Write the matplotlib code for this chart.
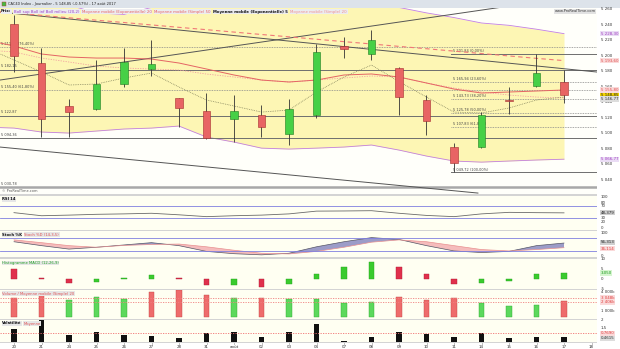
import matplotlib
matplotlib.use("Agg")
import matplotlib.pyplot as plt
from matplotlib.patches import Rectangle
import numpy as np

# ---- data (CAC40 daily, 20 July -> 17 Aug 2017) ----
days = ["20", "21", "24", "25", "26", "27", "28", "31", "août", "02", "03",
        "04", "07", "08", "09", "10", "11", "14", "15", "16", "17", "18"]

opens = [5241, 5190.5, 5135, 5131, 5163.5, 5183, 5145.5, 5129, 5118.5, 5123.6, 5099,
         5123.6, 5212, 5202, 5184, 5143, 5082.4, 5082, 5142.5, 5161, 5166]
highs = [5252, 5210, 5144, 5194, 5210, 5220, 5146, 5152, 5149, 5136.5, 5144,
         5215, 5224, 5233, 5185, 5149, 5087.5, 5127.4, 5160, 5202, 5181.5]
lows = [5179, 5095, 5095, 5130, 5160, 5174, 5108, 5093, 5089, 5095, 5085,
        5119.7, 5197, 5194, 5123.6, 5098, 5049.72, 5081, 5125, 5160, 5139]
closes = [5200, 5118.4, 5127, 5163.5, 5192, 5189, 5132.6, 5094.4, 5129, 5108, 5131,
          5204.7, 5208.5, 5220, 5147, 5116, 5062, 5123.6, 5141.8, 5177.6, 5148.85]

# overlays, first value is the day before the first candle
bb_upper = [5290, 5285, 5275, 5265, 5255, 5253, 5262, 5265, 5268, 5270, 5270,
            5268, 5267, 5266, 5265, 5262, 5255, 5249, 5242, 5239, 5234, 5228.3]
bb_lower = [5108, 5106.8, 5101.7, 5100.4, 5103, 5105.6, 5106.8, 5109.4, 5095.3, 5088.8, 5081,
            5079.8, 5081, 5082.4, 5085, 5078.5, 5070.8, 5064.4, 5063, 5064.4, 5065.7, 5066.77]
bb_mid = [5207.2, 5204.7, 5196.9, 5191.8, 5186.6, 5184.1, 5182.8, 5181.5, 5176.3, 5172.5, 5168.6,
          5166.0, 5168.6, 5171.2, 5173.8, 5172.5, 5164.8, 5158.3, 5153.2, 5149.3, 5146.7, 5145.5]
ema20 = [5220.1, 5212.4, 5202.1, 5198.2, 5196.9, 5196.9, 5195.6, 5190.5, 5182.8, 5175.1, 5168.6,
         5166.1, 5168.6, 5175.1, 5176.4, 5172.5, 5164.8, 5157.0, 5151.9, 5153.2, 5154.5, 5155.8]
sma50 = [5257.9, 5254.9, 5251.8, 5248.7, 5245.6, 5242.6, 5239.5, 5236.4, 5233.4, 5230.3, 5227.2,
         5224.2, 5221.1, 5218.0, 5215.0, 5211.9, 5208.9, 5205.8, 5202.7, 5199.6, 5196.5, 5193.6]
ma5 = [5209.8, 5194.4, 5178.9, 5162.2, 5163.5, 5171.2, 5177.6, 5159.6, 5142.9, 5135.2, 5127.4,
       5130.0, 5153.2, 5172.5, 5187.9, 5166.7, 5146.7, 5127.4, 5126.2, 5132.6, 5142.9, 5146.77]

# drawn trend lines (index, price)
trend_hi = ([-0.51, 21.2], [5256.1, 5178.9])
trend_up = ([-0.51, 18.5], [5168.6, 5266.3])
trend_lo = ([-0.51, 16.87], [5082.4, 5023.2])

levels_solid = [5182.15, 5122.87, 5094.36]
levels_dotted = [5211.53, 5155.40]
level_floor = 5030.78
left_labels = {5211.53: "5 211,53 (76,40%)", 5182.15: "5 182,15", 5155.40: "5 155,40 (61,80%)",
               5122.87: "5 122,87", 5094.36: "5 094,36", 5030.78: "5 030,78"}
fib_high, fib_low, fib_start = 5201.84, 5049.72, 15.9
fib_pct = [0, 23.6, 38.2, 50, 61.8, 100]

rsi = [49, 39, 41, 43.6, 45, 47, 42, 36, 39, 41, 45, 54, 54.5, 55.4, 47, 40, 36, 45, 50, 49, 48.379]
stoch_k = [62, 45, 30, 38, 48, 58, 45, 20, 10, 5, 12, 40, 62, 80, 72, 45, 22, 15, 20, 45, 56.313]
stoch_d = [70, 58, 45, 38, 46, 50, 52, 40, 25, 12, 9, 20, 38, 60, 70, 62, 45, 28, 22, 28, 36.114]
macd_hist = [5.0, 0.3, -2.2, -1.7, 0.5, 2.0, 0.6, -3.2, -3.0, -3.8, -2.5,
             2.5, 5.8, 8.5, 5.8, 2.7, -2.5, -2.2, -0.8, 2.5, 3.05]
volume = [3048, 3850, 2780, 3262, 2941, 3957, 4331, 3583, 3048, 3102, 2834,
          2941, 2246, 2406, 3209, 2674, 2995, 2246, 1711, 1925, 2513]
vol_ma = [3048, 2406]
volat = [1.14, 2.0, 0.62, 0.92, 0.62, 0.52, 0.37, 0.77, 0.86, 0.43, 0.86,
         1.63, 0.09, 0.40, 0.86, 0.68, 0.40, 0.77, 0.31, 0.46, 0.4615]
volat_ma = 0.769

W, H = 620, 349
XL = (-0.509, 21.2)
FS = 2.9


def fr(v, d=2):
    s = f"{v:,.{d}f}"
    return s.replace(",", "X").replace(".", ",").replace("X", " ")


def rect(x0, y0, x1, y1):
    return [x0 / W, 1 - y1 / H, (x1 - x0) / W, (y1 - y0) / H]


def panel(y0, y1, va, ya, vb, yb, bg="#fffff2"):
    ax = fig.add_axes(rect(0, y0, 597, y1))
    k = (vb - va) / (yb - ya)
    ax.set_ylim(va + (y1 - ya) * k, va + (y0 - ya) * k)
    ax.set_xlim(*XL)
    ax.set_facecolor(bg)
    for s in ax.spines.values():
        s.set_visible(False)
    ax.set_xticks([])
    ax.set_yticks([])
    return ax


def rlabel(ax, v, s, color="#333333", fc=None):
    kw = {}
    if fc:
        kw["bbox"] = dict(boxstyle="square,pad=0.15", fc=fc, ec="none")
    ax.text(1.006, v, s, transform=ax.get_yaxis_transform(), fontsize=FS, color=color,
            va="center", ha="left", clip_on=False, **kw)


fig = plt.figure(figsize=(6.2, 3.49), dpi=100, facecolor="#d4d4d4")
fig.patches.append(Rectangle((597 / W, 0), 23 / W, 1 - 8 / H, transform=fig.transFigure,
                             fc="white", ec="none", zorder=-1))
fig.patches.append(Rectangle((0, 0), 1, 6 / H, transform=fig.transFigure,
                             fc="white", ec="none", zorder=-1))
fig.patches.append(Rectangle((0, 1 - 8 / H), 1, 8 / H, transform=fig.transFigure,
                             fc="#dde3ea", ec="none", zorder=-1))

x = np.arange(len(closes))
xb = np.arange(-1, len(closes))

# ---------------- price panel ----------------
ax = panel(8, 194, 5260, 9, 5040, 180, bg="#fffffa")
ax.fill_between(xb, bb_lower, bb_upper, color="#fdf6b4", lw=0, zorder=0)
ax.plot(xb, bb_upper, color="#c27fe0", lw=0.6, zorder=1)
ax.plot(xb, bb_lower, color="#c27fe0", lw=0.6, zorder=1)

for lv in levels_solid:
    ax.axhline(lv, color="#6e6e6e", lw=0.7, zorder=2)
for lv in levels_dotted:
    ax.axhline(lv, color="#8a8a8a", lw=0.6, ls=(0, (1, 1)), zorder=2)
ax.axhline(level_floor, color="#a8a8a8", lw=1.8, zorder=2)
for lv, s in left_labels.items():
    ax.text(0.002, lv + 1.5, s, transform=ax.get_yaxis_transform(), fontsize=2.5,
            color="#444444", va="bottom", ha="left")

for p in fib_pct:
    lv = fib_high - (fib_high - fib_low) * p / 100
    solid = p in (0, 100)
    ax.plot([fib_start, XL[1]], [lv, lv], color="#6e6e6e" if solid else "#8a8a8a",
            lw=0.7 if solid else 0.6, ls="-" if solid else (0, (1, 1)), zorder=2)
    ax.text(fib_start + 0.08, lv + 1.2, f"{fr(lv)} ({fr(p)}%)", fontsize=2.5,
            color="#444444", va="bottom", ha="left")

for tx, ty in (trend_hi, trend_up, trend_lo):
    ax.plot(tx, ty, color="#555555", lw=0.7, zorder=2)

ax.plot(xb, bb_mid, color="#f2a0a0", lw=0.6, ls=(0, (1.5, 1.5)), zorder=3)
ax.plot(xb, sma50, color="#f07878", lw=0.8, ls=(0, (4, 3)), zorder=3)
ax.plot(xb, ema20, color="#e46464", lw=0.7, zorder=3)
ax.plot(xb, ma5, color="#7a7a55", lw=0.55, ls=(0, (1, 1.3)), zorder=3)

for i in x:
    o, h, l, c = opens[i], highs[i], lows[i], closes[i]
    up = c >= o
    ax.vlines(i, l, h, color="#333333", lw=0.6, zorder=4)
    body = max(abs(c - o), 0.8)
    ax.bar(i, body, bottom=min(o, c), width=0.27, zorder=5,
           color="#46d046" if up else "#e86464",
           edgecolor="#1f7a1f" if up else "#a32c2c", lw=0.4)

for v in range(5040, 5261, 20):
    rlabel(ax, v, fr(v, 0))
rlabel(ax, bb_upper[-1], fr(bb_upper[-1]), "#a040c0", "#eadcf5")
rlabel(ax, sma50[-1], fr(sma50[-1]), "#e05050", "#fadada")
rlabel(ax, ema20[-1], fr(ema20[-1]), "#e05050", "#fadada")
rlabel(ax, closes[-1], fr(closes[-1]), "#222222", "#f3d400")
rlabel(ax, ma5[-1] - 2.5, fr(ma5[-1]), "#333333", "#dddddd")
rlabel(ax, bb_lower[-1], fr(bb_lower[-1]), "#a040c0", "#eadcf5")

# ---------------- RSI ----------------
ar = panel(196, 230, 100, 197, 0, 227.7)
ar.axhline(70, color="#8080e0", lw=0.6)
ar.axhline(30, color="#8080e0", lw=0.6)
ar.plot(x, rsi, color="#6a6a6a", lw=0.6)
for v in (100, 80, 70, 30, 20, 0):
    rlabel(ar, v, str(v))
rlabel(ar, rsi[-1], fr(rsi[-1], 3), "#222222", "#cfcfcf")

# ---------------- Stochastic ----------------
ast = panel(231, 257, 100, 233, 0, 256)
k = np.array(stoch_k)
d = np.array(stoch_d)
ast.fill_between(x, k, d, where=k >= d, interpolate=True, color="#9c9cc8", lw=0)
ast.fill_between(x, k, d, where=k < d, interpolate=True, color="#f5bcbc", lw=0)
ast.plot(x, k, color="#555566", lw=0.5)
ast.plot(x, d, color="#e89090", lw=0.5)
ast.axhline(80, color="#8080e0", lw=0.6)
ast.axhline(20, color="#8080e0", lw=0.6)
rlabel(ast, 100, "100")
rlabel(ast, 0, "0")
rlabel(ast, stoch_k[-1] + 4, fr(stoch_k[-1], 3), "#222222", "#cfcfcf")
rlabel(ast, stoch_d[-1] - 4, fr(stoch_d[-1], 3), "#e04040", "#fadada")

# ---------------- MACD histogram ----------------
am = panel(259, 289, 0, 279, 10, 259)
mh = np.array(macd_hist)
rising = np.r_[False, np.diff(mh) > 0]
am.bar(x, mh, width=0.21, color=np.where(rising, "#3acb2e", "#e0304c"),
       edgecolor=np.where(rising, "#23a31c", "#b01c34"), lw=0.3)
for v in (10, 5, 0, -5):
    rlabel(am, v, str(v))
rlabel(am, mh[-1], fr(mh[-1], 3), "#1a9a1a", "#d6f5d0")

# ---------------- Volume ----------------
av = panel(290, 319, 0, 317, 4000, 292.1)
prev = np.r_[opens[0], closes[:-1]]
vup = np.array(closes) >= prev
av.bar(x, volume, width=0.21, color=np.where(vup, "#5cd85c", "#ee6c6c"),
       edgecolor=np.where(vup, "#2faa2f", "#c44444"), lw=0.3)
for vm in vol_ma:
    av.axhline(vm, color="#f08080", lw=0.6, ls=(0, (1.5, 1.5)))
rlabel(av, 4000, "4 000k")
rlabel(av, 1000, "1 000k")
rlabel(av, vol_ma[0], fr(vol_ma[0], 0) + "k", "#e04040", "#fadada")
rlabel(av, vol_ma[1], fr(vol_ma[1], 0) + "k", "#e04040", "#fadada")

# ---------------- Volatility ----------------
aq = panel(320, 342, 0, 341.7, 2, 320)
aq.bar(x, volat, width=0.21, color="#111111")
aq.axhline(volat_ma, color="#f07070", lw=0.6, ls=(0, (1.5, 1.5)))
rlabel(aq, 2, "2")
rlabel(aq, 1.3, "1,5")
rlabel(aq, volat_ma, fr(volat_ma, 4), "#e04040", "#fadada")
rlabel(aq, 0.3, fr(volat[-1], 4), "#333333", "#dddddd")

# x axis labels
for i, s in enumerate(days):
    px = 14 + 27.5 * i
    fig.text(px / W, 1 - 346.5 / H, s, fontsize=FS, ha="center", va="center", color="#333333")
    fig.lines.append(plt.Line2D([px / W, px / W], [1 - 342.5 / H, 1 - 343.8 / H],
                                transform=fig.transFigure, color="#777777", lw=0.4))

# ---------------- texts ----------------
fig.canvas.draw()
rend = fig.canvas.get_renderer()


def seq_text(x0, y, parts, size=2.6, fc=None):
    xx = x0
    for s, color, weight in parts:
        kw = {}
        if fc:
            kw["bbox"] = dict(boxstyle="square,pad=0.12", fc=fc, ec="none")
        t = fig.text(xx / W, 1 - y / H, s, color=color, fontsize=size, fontweight=weight,
                     va="center", ha="left", **kw)
        xx = t.get_window_extent(rend).x1 + 2.5


fig.patches.append(Rectangle((2 / W, 1 - 6 / H), 4 / W, 4 / H, transform=fig.transFigure,
                             fc="#44bb44", ec="#c03030", lw=0.3))
seq_text(8, 4, [("CAC40 Index - Journalier - 5 148,85 (-0,57%) - 17 août 2017", "#222222", "normal")])
seq_text(1, 11.5, [("Prix:", "#111111", "bold"),
                   ("Boll sup Boll inf Boll milieu (20,2)", "#9a40c8", "normal"),
                   ("Moyenne mobile (Exponentielle) 20", "#e86060", "normal"),
                   ("Moyenne mobile (Simple) 50", "#e86060", "normal"),
                   ("Moyenne mobile (Exponentielle) 5", "#111111", "bold"),
                   ("Moyenne mobile (Simple) 20", "#f09090", "normal")], size=2.8, fc="#ececf0")
fig.text(596 / W, 1 - 11.5 / H, "www.ProRealTime.com", fontsize=2.6, color="#333333",
         ha="right", va="center", bbox=dict(boxstyle="square,pad=0.12", fc="#e2e2e2", ec="none"))
fig.text(2 / W, 1 - 191.5 / H, "© ProRealTime.com", fontsize=2.5, color="#555555", va="center")

seq_text(2, 199.5, [("RSI 14", "#111111", "bold")], size=2.7, fc="#e6e6e6")
seq_text(2, 234.5, [("Stoch %K", "#111111", "bold"), ("Stoch %D (14,3,5)", "#e05050", "normal")],
         size=2.7, fc="#e6e6e6")
seq_text(2, 263, [("Histogramme MACD (12,26,9)", "#20a020", "normal")], size=2.7, fc="#e6e6e6")
seq_text(2, 293.5, [("Volume / Moyenne mobile (Simple) 20", "#e05050", "normal")], size=2.7, fc="#e6e6e6")
seq_text(2, 323.5, [("Volatilité", "#111111", "bold"), ("Moyenne", "#e05050", "normal")],
         size=2.7, fc="#e6e6e6")

fig.savefig("out.png", dpi=100, facecolor=fig.get_facecolor())
